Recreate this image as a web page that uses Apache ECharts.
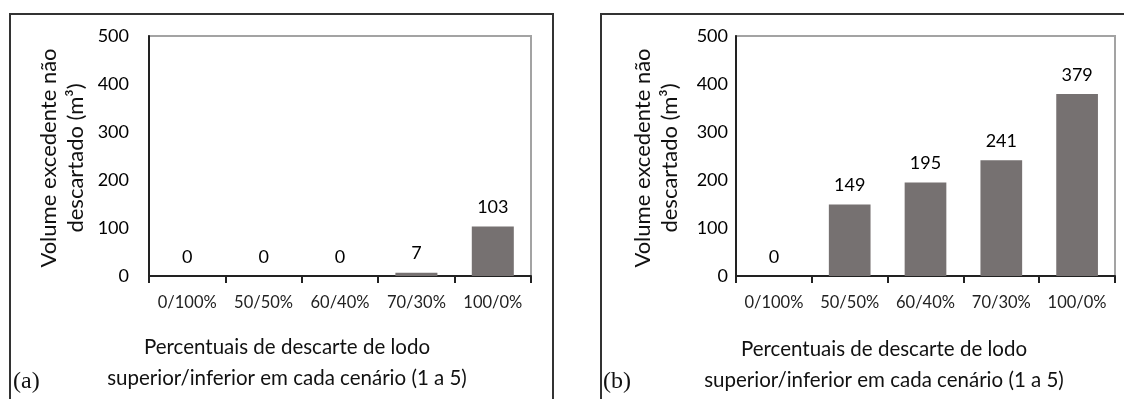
<!DOCTYPE html>
<html>
<head>
<meta charset="utf-8">
<script src="https://cdn.jsdelivr.net/npm/echarts@6/dist/echarts.min.js"></script>
<style>
html,body{margin:0;padding:0;background:#fff;}
#c{width:1124px;height:399px;}
</style>
</head>
<body>
<div id="c"></div>
<script>
const categories = ['0/100%', '50/50%', '60/40%', '70/30%', '100/0%'];
const valuesA = [0, 0, 0, 7, 103];
const valuesB = [0, 149, 195, 241, 379];
const yMin = 0, yMax = 500, yStep = 100;
const yTitle = 'Volume excedente não\ndescartado (m³)';
const xTitle = 'Percentuais de descarte de lodo\nsuperior/inferior em cada cenário (1 a 5)';
const panelLabels = ['(a)', '(b)'];

const FONT = 'Lato';
const chart = echarts.init(document.getElementById('c'), null, {renderer: 'canvas'});

function xAxisCfg(gi) {
  return {
    type: 'category', gridIndex: gi, data: categories,
    axisLine: {show: true, lineStyle: {color: '#222', width: 2}},
    axisTick: {show: true, length: 7, lineStyle: {color: '#222', width: 2}},
    axisLabel: {color: '#222', fontFamily: FONT, fontSize: 16.5, margin: 18, interval: 0, hideOverlap: false},
    splitLine: {show: false}
  };
}
function yAxisCfg(gi, margin) {
  return {
    type: 'value', gridIndex: gi, min: yMin, max: yMax, interval: yStep,
    axisLine: {show: true, lineStyle: {color: '#222', width: 2}},
    axisTick: {show: false},
    axisLabel: {color: '#000', fontFamily: FONT, fontSize: 18, margin: margin},
    splitLine: {show: false}
  };
}
function barSeries(gi, vals) {
  return {
    type: 'bar', xAxisIndex: gi, yAxisIndex: gi, data: vals,
    barWidth: '55%',
    itemStyle: {color: '#767171'},
    label: {show: true, position: 'top', distance: 10, color: '#000', fontFamily: FONT, fontSize: 18},
    silent: true, animation: false
  };
}

const gridBorder = {show: true, borderColor: '#a3a3a3', borderWidth: 2, backgroundColor: 'transparent'};

chart.setOption({
  animation: false,
  backgroundColor: '#fff',
  grid: [
    Object.assign({left: 149, top: 36, width: 382, height: 240}, gridBorder),
    Object.assign({left: 736, top: 36, width: 379, height: 240}, gridBorder)
  ],
  xAxis: [xAxisCfg(0), xAxisCfg(1)],
  yAxis: [yAxisCfg(0, 20), yAxisCfg(1, 8)],
  series: [barSeries(0, valuesA), barSeries(1, valuesB)],
  graphic: [
    {type: 'rect', shape: {x: 10, y: 14, width: 543, height: 420}, style: {fill: 'none', stroke: '#333', lineWidth: 2}, silent: true},
    {type: 'rect', shape: {x: 601, y: 14, width: 620, height: 420}, style: {fill: 'none', stroke: '#333', lineWidth: 2}, silent: true},
    {type: 'text', x: 62, y: 158, rotation: Math.PI / 2,
      style: {text: yTitle, fontFamily: FONT, fontSize: 22, lineHeight: 27, fill: '#111', textAlign: 'center', textVerticalAlign: 'middle'}},
    {type: 'text', x: 656, y: 158, rotation: Math.PI / 2,
      style: {text: yTitle, fontFamily: FONT, fontSize: 22, lineHeight: 27, fill: '#111', textAlign: 'center', textVerticalAlign: 'middle'}},
    {type: 'text', x: 287, y: 363,
      style: {text: xTitle, fontFamily: FONT, fontSize: 20.5, lineHeight: 31, fill: '#111', textAlign: 'center', textVerticalAlign: 'middle'}},
    {type: 'text', x: 884, y: 365,
      style: {text: xTitle, fontFamily: FONT, fontSize: 20.5, lineHeight: 31, fill: '#111', textAlign: 'center', textVerticalAlign: 'middle'}},
    {type: 'text', x: 13, y: 382,
      style: {text: panelLabels[0], fontFamily: 'Liberation Serif', fontSize: 24, fill: '#111', textAlign: 'left', textVerticalAlign: 'middle'}},
    {type: 'text', x: 603, y: 382,
      style: {text: panelLabels[1], fontFamily: 'Liberation Serif', fontSize: 24, fill: '#111', textAlign: 'left', textVerticalAlign: 'middle'}}
  ]
});
</script>
</body>
</html>
